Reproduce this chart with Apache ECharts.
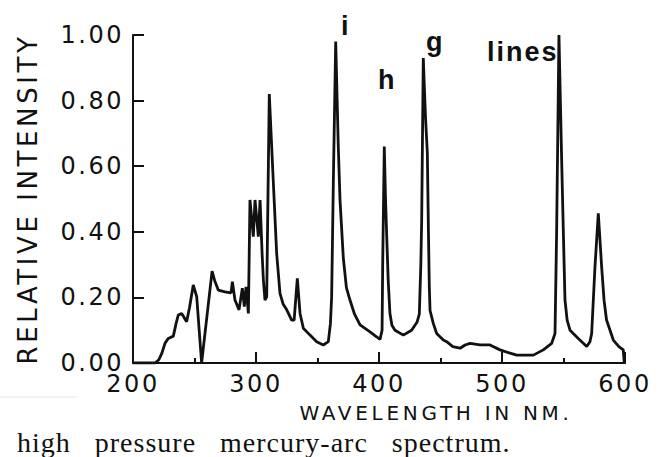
<!DOCTYPE html>
<html>
<head>
<meta charset="utf-8">
<script src="https://cdn.jsdelivr.net/npm/echarts@6/dist/echarts.min.js"></script>
<style>
html, body { margin: 0; padding: 0; background: #fff; }
#wrap { position: relative; width: 662px; height: 457px; }
.layer { position: absolute; left: 0; top: 0; width: 662px; height: 457px; }
.layer text[style*="24px"] { letter-spacing: 2.5px; }
.layer text[style*="26px"] { letter-spacing: 3.6px; }
.layer text[style*="20px"] { letter-spacing: 3.7px; }
.layer text[style*="27px"] { letter-spacing: 2px; }
.layer text[style*="28px"] { letter-spacing: 1px; word-spacing: 16px; }
</style>
</head>
<body>
<div id="wrap">
  <div id="axes" class="layer"></div>
  <div id="chart" class="layer"></div>
</div>
<script>
// Wavelength (nm) and relative intensity
const wavelengths = [
  200, 218, 221, 223.5, 226, 228.7, 232.8, 235, 236.8, 239.6, 243.6, 246, 249, 251.8,
  255.8, 257, 264.3, 266.5, 269.4, 274.8, 279.7, 280.8, 282.9, 286.2, 288.9, 290.5, 291.9,
  293.8, 295.1, 297.8, 299.2, 301.9, 303.3, 305, 306, 307.3, 308.7, 310.8, 312.5, 314,
  316.8, 319.5, 322, 325, 329, 331, 333.6, 335.8, 338.5, 343.9, 349.3, 354.7, 358.8,
  360.5, 361.5, 362.9, 364.8, 366.9, 368.3, 371, 373.5, 376.4, 380, 384.6, 392.7, 398,
  400.8, 402.5, 403, 404.3, 405.3, 406.2, 407.5, 408.9, 410.5, 413, 419.8, 426.5, 431,
  432.8, 434, 434.7, 436, 437.8, 439.3, 440.2, 440.9, 441.5, 444.2, 446.9, 452.3, 455,
  460, 465.9, 470, 474, 482.1, 490.2, 498.4, 506.5, 512, 520, 525.5, 533.6, 540.4, 543.1,
  544.4, 546.3, 548.5, 550, 551.2, 553, 555.3, 562, 568.9, 571.5, 572.9, 575.6, 578.3,
  581, 583, 585, 590.5, 595, 598.6, 599.3, 600
];
const intensities = [
  0, 0, 0.01, 0.03, 0.06, 0.075, 0.082, 0.12, 0.146, 0.151, 0.126, 0.17, 0.238, 0.202,
  0.0, 0.04, 0.28, 0.25, 0.222, 0.217, 0.214, 0.248, 0.192, 0.162, 0.228, 0.172, 0.232,
  0.151, 0.497, 0.385, 0.497, 0.385, 0.497, 0.33, 0.253, 0.192, 0.202, 0.82, 0.68, 0.558,
  0.334, 0.212, 0.18, 0.162, 0.131, 0.131, 0.258, 0.151, 0.106, 0.085, 0.065, 0.055, 0.065,
  0.12, 0.202, 0.558, 0.98, 0.66, 0.497, 0.32, 0.23, 0.192, 0.15, 0.116, 0.095, 0.08,
  0.072, 0.1, 0.3, 0.66, 0.5, 0.395, 0.25, 0.151, 0.115, 0.1, 0.085, 0.1, 0.125,
  0.15, 0.3, 0.436, 0.93, 0.75, 0.64, 0.4, 0.233, 0.16, 0.12, 0.09, 0.07, 0.065,
  0.05, 0.045, 0.055, 0.06, 0.055, 0.055, 0.04, 0.03, 0.024, 0.024, 0.024, 0.04, 0.06, 0.09,
  0.395, 1.0, 0.619, 0.38, 0.192, 0.13, 0.1, 0.075, 0.05, 0.065, 0.09, 0.294, 0.456,
  0.294, 0.19, 0.131, 0.07, 0.05, 0.04, 0.005, 0
];
const yTicks = [0, 0.2, 0.4, 0.6, 0.8, 1.0];
const xTicks = [200, 300, 400, 500, 600];
const lineLabels = ['i', 'h', 'g', 'lines'];

const seriesData = wavelengths.map((w, i) => [w, intensities[i]]);
const ink = '#111';
const gridBox = { left: 133, right: 37, top: 35, bottom: 94 };

// Layer 1: axes, ticks, tick labels and axis name
const axesChart = echarts.init(document.getElementById('axes'), null, { renderer: 'svg' });
axesChart.setOption({
  backgroundColor: '#fff',
  animation: false,
  grid: gridBox,
  xAxis: {
    type: 'value',
    min: xTicks[0], max: xTicks[xTicks.length - 1], interval: 100,
    axisLine: { show: true, lineStyle: { color: ink, width: 2 } },
    axisTick: { show: true, inside: true, length: 11, lineStyle: { color: ink, width: 2 } },
    minorTick: { show: true, splitNumber: 2, length: 5, lineStyle: { color: ink, width: 2 } },
    splitLine: { show: false },
    axisLabel: { color: ink, fontFamily: 'DejaVu Sans', fontSize: 24, margin: 9,
      formatter: v => String(v) }
  },
  yAxis: {
    type: 'value',
    min: yTicks[0], max: yTicks[yTicks.length - 1], interval: 0.2,
    name: 'RELATIVE INTENSITY',
    nameLocation: 'middle',
    nameGap: 92,
    nameTextStyle: { color: ink, fontFamily: 'DejaVu Sans', fontSize: 26 },
    axisLine: { show: true, lineStyle: { color: ink, width: 2 } },
    axisTick: { show: true, inside: true, length: 11, lineStyle: { color: ink, width: 2 } },
    splitLine: { show: false },
    axisLabel: { color: ink, fontFamily: 'DejaVu Sans', fontSize: 24, margin: 9,
      formatter: v => v.toFixed(2) }
  },
  series: [{ type: 'line', data: [], showSymbol: false }]
});

// Layer 2: the spectrum curve (same scales, hidden axes) and the texts
const chart = echarts.init(document.getElementById('chart'), null, { renderer: 'svg' });
chart.setOption({
  backgroundColor: 'transparent',
  animation: false,
  grid: gridBox,
  xAxis: {
    type: 'value', show: false,
    min: xTicks[0], max: xTicks[xTicks.length - 1], interval: 100,
    splitLine: { show: false }
  },
  yAxis: {
    type: 'value', show: false,
    min: yTicks[0], max: yTicks[yTicks.length - 1], interval: 0.2,
    splitLine: { show: false }
  },
  series: [{
    type: 'line',
    data: seriesData,
    showSymbol: false,
    lineStyle: { color: ink, width: 2.8 }
  }],
  graphic: [
    { type: 'text', left: 341, top: 12, style: { text: lineLabels[0], font: 'bold 27px Liberation Sans', fill: ink } },
    { type: 'text', left: 378, top: 66, style: { text: lineLabels[1], font: 'bold 27px Liberation Sans', fill: ink } },
    { type: 'text', left: 426, top: 28, style: { text: lineLabels[2], font: 'bold 27px Liberation Sans', fill: ink } },
    { type: 'text', left: 487, top: 38, style: { text: lineLabels[3], font: 'bold 27px Liberation Sans', fill: ink } },
    { type: 'text', x: 436, y: 413, style: { text: 'WAVELENGTH IN NM.', font: '20px DejaVu Sans', fill: ink, textAlign: 'center', textVerticalAlign: 'middle' } },
    { type: 'text', x: 17, y: 442, style: { text: 'high pressure mercury-arc spectrum.', font: '28px Liberation Serif', fill: ink, textAlign: 'left', textVerticalAlign: 'middle' } },
    { type: 'line', shape: { x1: 0, y1: 397, x2: 77, y2: 397 }, style: { stroke: '#e4e4e4', lineWidth: 1 } }
  ]
});
</script>
</body>
</html>
